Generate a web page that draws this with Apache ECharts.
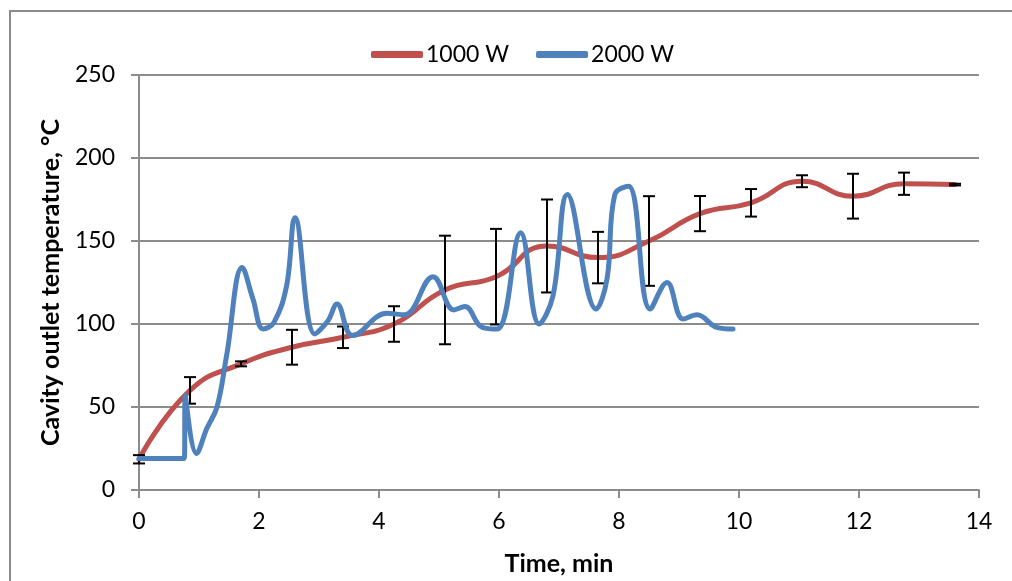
<!DOCTYPE html>
<html>
<head>
<meta charset="utf-8">
<script src="https://cdn.jsdelivr.net/npm/echarts@6/dist/echarts.min.js"></script>
<style>
  html, body { margin: 0; padding: 0; background: #fff; }
  #chart { width: 1012px; height: 581px; }
</style>
</head>
<body>
<div id="chart"></div>
<script>
// 1000 W run: sampled points with standard deviation
const time1000 = [0, 0.85, 1.7, 2.55, 3.4, 4.25, 5.1, 5.95, 6.8, 7.65, 8.5, 9.35, 10.2, 11.05, 11.9, 12.75, 13.6];
const temp1000 = [18.5, 60, 76, 86, 92, 100, 120.5, 128.5, 147, 140, 150, 166.5, 173, 186, 177, 184.5, 184];
const err1000  = [2.5, 8, 1.5, 10.5, 6.5, 10.7, 32.7, 28.8, 28, 15.5, 27, 10.6, 8.3, 3.6, 13.5, 6.7, 0.5];

// 2000 W run
const time2000 = [0, 0.3, 0.6, 0.755, 0.77, 0.96, 1.13, 1.3, 1.46, 1.72, 1.9, 2.07, 2.25, 2.46, 2.6, 2.93,
  3.15, 3.3, 3.56, 4.13, 4.42, 4.9, 5.25, 5.43, 5.72, 5.97, 6.36, 6.67, 6.9, 7.14, 7.62, 7.8,
  7.93, 8.16, 8.52, 8.8, 9.07, 9.3, 9.63, 9.9];
const temp2000 = [19, 19, 19, 19, 57, 22, 37, 50, 81, 134, 115, 97, 101, 123, 164, 94,
  102, 112, 93, 106.5, 105.5, 128.5, 108.5, 110.5, 98, 97, 155, 100, 117, 178, 109, 127,
  178, 183, 109, 125, 103, 105.5, 98, 97];

const xTicks = [0, 2, 4, 6, 8, 10, 12, 14];
const yTicks = [0, 50, 100, 150, 200, 250];

const FONT = 'Lato';
const red = '#C0504D';
const blue = '#4F81BD';
const gridGray = '#8c8c8c';

const chart = echarts.init(document.getElementById('chart'), null, { renderer: 'canvas' });

const line1000 = time1000.map((t, i) => [t, temp1000[i]]);
const line2000 = time2000.map((t, i) => [t, temp2000[i]]);
const errData = time1000.map((t, i) => [t, temp1000[i] - err1000[i], temp1000[i] + err1000[i]]);

chart.setOption({
  animation: false,
  backgroundColor: '#fff',
  textStyle: { fontFamily: FONT },
  graphic: [{
    type: 'rect',
    shape: { x: 10, y: 11, width: 1100, height: 600 },
    style: { fill: 'none', stroke: '#8a8a8a', lineWidth: 2 },
    silent: true
  }],
  legend: {
    data: ['1000 W', '2000 W'],
    top: 38,
    left: 366,
    icon: 'roundRect',
    itemWidth: 52,
    itemHeight: 7,
    itemGap: 27,
    textStyle: { fontFamily: FONT, fontSize: 23, color: '#000', padding: [0, 0, 0, -2] }
  },
  grid: { left: 139, right: 33, top: 75, bottom: 89, containLabel: false },
  xAxis: {
    type: 'value',
    min: xTicks[0],
    max: xTicks[xTicks.length - 1],
    interval: 2,
    name: 'Time, min',
    nameLocation: 'middle',
    nameGap: 61,
    nameTextStyle: { fontFamily: FONT, fontSize: 25, fontWeight: 'bold', color: '#000' },
    axisLine: { show: true, lineStyle: { color: gridGray, width: 2 } },
    axisTick: { show: true, length: 8, lineStyle: { color: gridGray, width: 2 } },
    axisLabel: { fontFamily: FONT, fontSize: 23, color: '#000', margin: 20 },
    splitLine: { show: false }
  },
  yAxis: {
    type: 'value',
    min: yTicks[0],
    max: yTicks[yTicks.length - 1],
    interval: 50,
    name: 'Cavity outlet temperature, °C',
    nameLocation: 'middle',
    nameGap: 76,
    nameTextStyle: { fontFamily: FONT, fontSize: 25, fontWeight: 'bold', color: '#000' },
    axisLine: { show: true, lineStyle: { color: gridGray, width: 2 } },
    axisTick: { show: true, length: 8, lineStyle: { color: gridGray, width: 2 } },
    axisLabel: { fontFamily: FONT, fontSize: 23, color: '#000', margin: 24 },
    splitLine: { show: true, lineStyle: { color: gridGray, width: 2 } }
  },
  series: [
    {
      name: '1000 W',
      type: 'line',
      data: line1000,
      smooth: 0.5,
      symbol: 'none',
      lineStyle: { color: red, width: 5, cap: 'round' },
      itemStyle: { color: red },
      z: 2
    },
    {
      name: 'err',
      type: 'custom',
      data: errData,
      z: 3,
      encode: { x: 0, y: [1, 2] },
      renderItem: function (params, api) {
        const x = api.value(0);
        const lo = api.coord([x, api.value(1)]);
        const hi = api.coord([x, api.value(2)]);
        const half = 6;
        const style = { stroke: '#000', lineWidth: 2 };
        return {
          type: 'group',
          children: [
            { type: 'line', shape: { x1: lo[0], y1: lo[1], x2: hi[0], y2: hi[1] }, style: style },
            { type: 'line', shape: { x1: lo[0] - half, y1: lo[1], x2: lo[0] + half, y2: lo[1] }, style: style },
            { type: 'line', shape: { x1: hi[0] - half, y1: hi[1], x2: hi[0] + half, y2: hi[1] }, style: style }
          ]
        };
      }
    },
    {
      name: '2000 W',
      type: 'line',
      data: line2000,
      smooth: 0.4,
      symbol: 'none',
      lineStyle: { color: blue, width: 5, cap: 'round', join: 'round' },
      itemStyle: { color: blue },
      z: 4
    }
  ]
});
</script>
</body>
</html>
